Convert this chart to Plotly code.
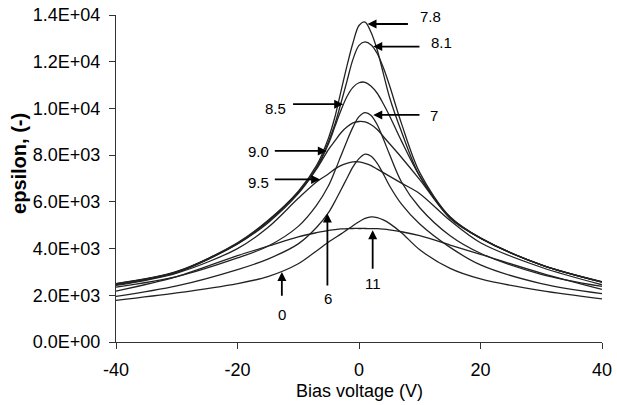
import plotly.graph_objects as go

# ---- data ----
bias_v = [-40, -30, -20, -15, -10, -7, -5, -4, -3, -2, -1, 0, 1, 2, 3, 4, 5, 7, 10, 15, 20, 30, 40]

eps_7_8 = [2480, 3000, 4250, 5200, 6450, 7550, 8750, 9600, 10700, 11800, 12800, 13550, 13700, 13250, 12500, 11500, 10500, 9000, 7100, 5350, 4450, 3300, 2570]
eps_8_1 = [2450, 2980, 4200, 5150, 6400, 7450, 8600, 9300, 10200, 11150, 12100, 12700, 12850, 12720, 12350, 11750, 11000, 9350, 7250, 5350, 4450, 3300, 2560]
eps_8_5 = [2500, 3020, 4230, 5180, 6420, 7450, 8500, 9200, 9900, 10500, 10900, 11100, 11120, 10950, 10650, 10200, 9700, 8600, 7100, 5300, 4450, 3300, 2560]
eps_9_0 = [2500, 3000, 4200, 5100, 6350, 7400, 8250, 8600, 8950, 9200, 9380, 9440, 9420, 9300, 9100, 8800, 8500, 7900, 6950, 5300, 4450, 3300, 2580]
eps_7 = [2350, 2800, 3600, 4100, 4950, 5850, 6700, 7300, 7950, 8600, 9200, 9650, 9820, 9700, 9300, 8700, 8050, 6850, 5750, 4550, 3800, 2900, 2380]
eps_9_5 = [2420, 2950, 4000, 4900, 6150, 6850, 7200, 7400, 7550, 7650, 7710, 7710, 7650, 7550, 7400, 7250, 7100, 6800, 6350, 5200, 4250, 3200, 2450]
eps_6 = [1950, 2400, 3100, 3550, 4200, 4900, 5550, 6000, 6500, 7000, 7500, 7850, 8040, 7950, 7650, 7200, 6700, 5900, 5050, 4050, 3300, 2500, 2070]
eps_0 = [1780, 2100, 2500, 2800, 3350, 3900, 4280, 4450, 4620, 4800, 4980, 5150, 5290, 5360, 5330, 5230, 5080, 4680, 3950, 3150, 2700, 2200, 1850]
eps_11 = [2180, 2800, 3700, 4100, 4500, 4680, 4780, 4810, 4840, 4850, 4860, 4860, 4860, 4855, 4850, 4830, 4800, 4720, 4550, 4150, 3750, 2950, 2250]

series_names = ["7.8", "8.1", "8.5", "9.0", "7", "9.5", "6", "0", "11"]
series_vals = [eps_7_8, eps_8_1, eps_8_5, eps_9_0, eps_7, eps_9_5, eps_6, eps_0, eps_11]

y_tick_vals = [0, 2000, 4000, 6000, 8000, 10000, 12000, 14000]
y_tick_text = ["0.0E+00", "2.0E+03", "4.0E+03", "6.0E+03", "8.0E+03", "1.0E+04", "1.2E+04", "1.4E+04"]
x_tick_vals = [-40, -20, 0, 20, 40]
x_tick_text = ["-40", "-20", "0", "20", "40"]

# label annotations: text, text position (x, y), arrow tail (x, y), arrow tip (x, y)
label_text = ["7.8", "8.1", "8.5", "7", "9.0", "9.5", "0", "6", "11"]
label_xy = [(11.7, 13916), (13.5, 12824), (-13.7, 10009), (12.35, 9678), (-16.6, 8146),
            (-16.6, 6815), (-12.7, 1180), (-5.15, 1854), (2.26, 2498)]
arrow_tail = [(8.3, 13614), (10.2, 12650), (-11.1, 10180), (10.2, 9720), (-14.1, 8180),
              (-14.1, 6960), (-12.7, 1920), (-5.2, 2350), (2.25, 3070)]
arrow_tip = [(1.4, 13614), (2.35, 12650), (-2.6, 10180), (2.35, 9720), (-5.3, 8180),
             (-6.4, 6960), (-12.7, 3000), (-5.2, 5500), (2.25, 4780)]

fig = go.Figure()
for name, vals in zip(series_names, series_vals):
    fig.add_trace(go.Scatter(x=bias_v, y=vals, mode="lines", name=name,
                             line=dict(color="#222222", width=1.3, shape="spline", smoothing=0.9),
                             showlegend=False, hoverinfo="skip"))

FONT = "Liberation Sans, Arial, sans-serif"
annotations = []
for t, (tx, ty), (ax, ay), (hx, hy) in zip(label_text, label_xy, arrow_tail, arrow_tip):
    annotations.append(dict(x=tx, y=ty, xref="x", yref="y", text=t, showarrow=False,
                            font=dict(family=FONT, size=15, color="#000"),
                            xanchor="center", yanchor="middle"))
    annotations.append(dict(x=hx, y=hy, ax=ax, ay=ay, xref="x", yref="y", axref="x", ayref="y",
                            text="", showarrow=True, arrowhead=2, arrowsize=1.0,
                            arrowwidth=1.8, arrowcolor="#000"))

annotations.append(dict(x=-0.1996, y=0.5475, xref="paper", yref="paper", text="<b>epsilon, (-)</b>",
                        showarrow=False, textangle=-90, xanchor="center", yanchor="middle",
                        font=dict(family=FONT, size=20, color="#000")))
annotations.append(dict(x=0.5, y=-0.15, xref="paper", yref="paper", text="Bias voltage (V)",
                        showarrow=False, xanchor="center", yanchor="middle",
                        font=dict(family=FONT, size=18, color="#000")))

fig.update_layout(
    width=617, height=405,
    margin=dict(l=116, r=15, t=15, b=63, autoexpand=False),
    paper_bgcolor="white", plot_bgcolor="white",
    font=dict(family=FONT, size=18, color="#000"),
    annotations=annotations,
)
fig.update_xaxes(range=[-40, 40], tickvals=x_tick_vals, ticktext=x_tick_text, showgrid=False, zeroline=False,
                 showline=True, linecolor="#333", linewidth=1.3, automargin=False,
                 ticks="outside", ticklen=6, tickcolor="#333", tickwidth=1.3,
                 ticklabelstandoff=5,
                 tickfont=dict(family=FONT, size=18, color="#000"))
fig.update_yaxes(range=[0, 14000], tickvals=y_tick_vals, ticktext=y_tick_text, showgrid=False,
                 zeroline=False, showline=True, linecolor="#333", linewidth=1.3, automargin=False,
                 ticks="outside", ticklen=6, tickcolor="#333", tickwidth=1.3,
                 ticklabelstandoff=5,
                 tickfont=dict(family=FONT, size=18, color="#000"))

fig.write_html("out.html")
